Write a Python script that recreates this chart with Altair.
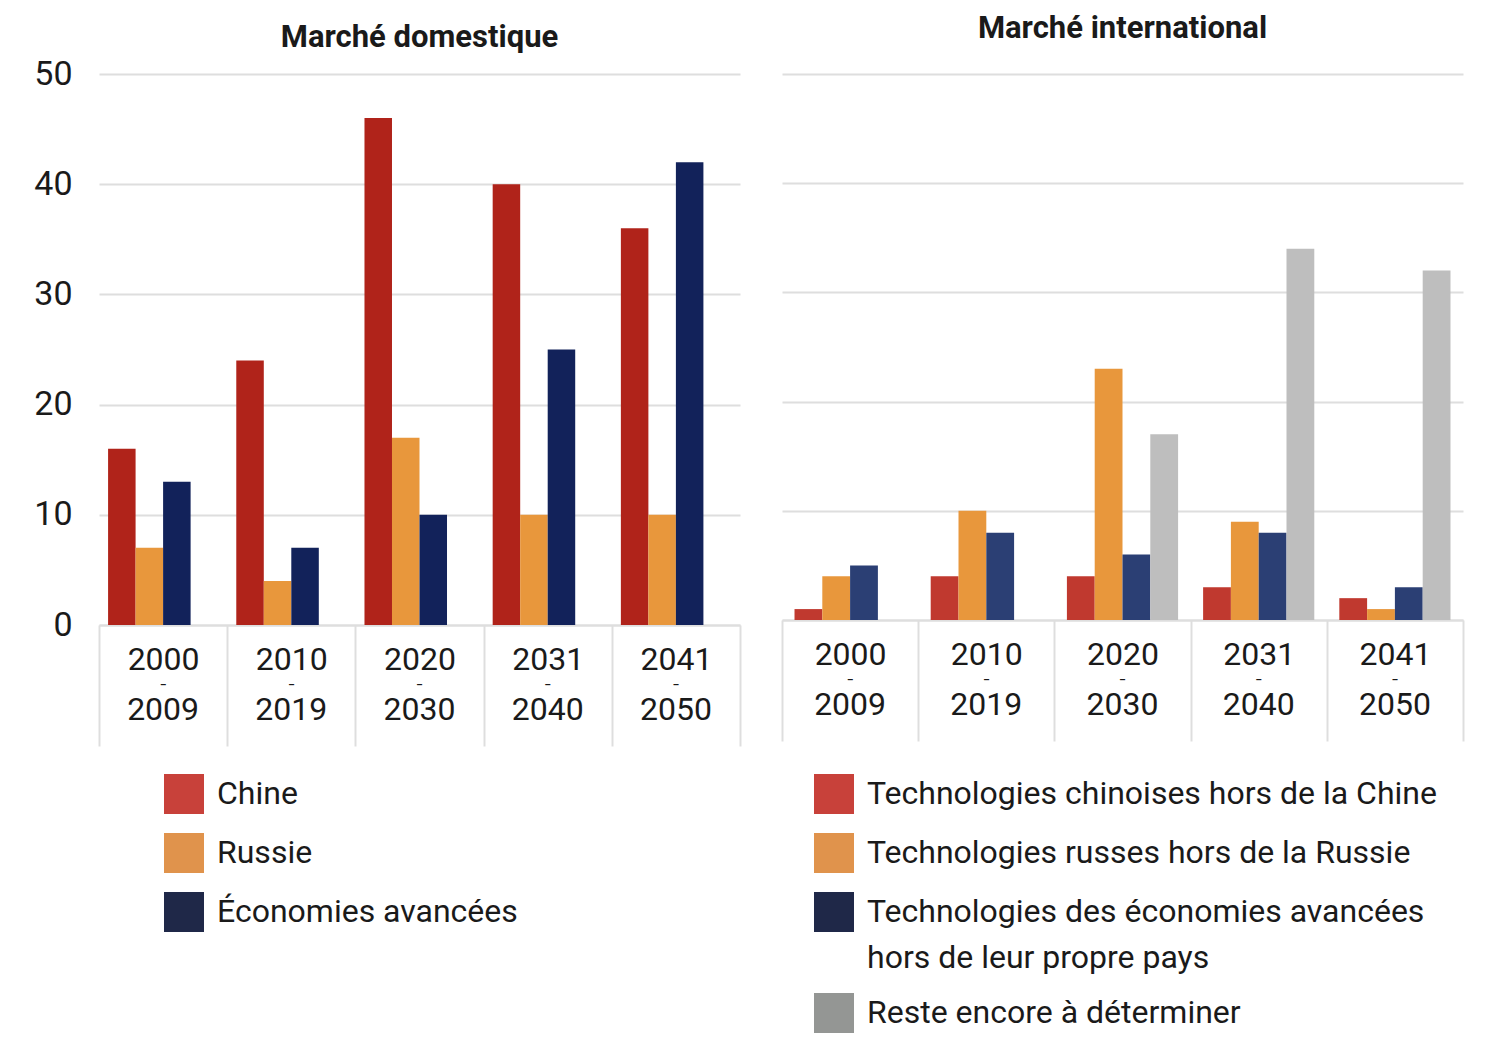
import altair as alt
import pandas as pd

FONT = "Roboto"
TXT = "#1a1a1a"
GRID = "#DEDEDE"

decades = ["2000-2009", "2010-2019", "2020-2030", "2031-2040", "2041-2050"]

# Marché domestique
dom_series = ["Chine", "Russie", "Économies avancées"]
dom_chine = [16, 24, 46, 40, 36]
dom_russie = [7, 4, 17, 10, 10]
dom_eco = [13, 7, 10, 25, 42]
dom_bar_colors = ["#B0231A", "#E8973C", "#12225A"]
dom_legend_colors = ["#C8413A", "#E0934C", "#1F2848"]

# Marché international
int_series = [
    "Technologies chinoises hors de la Chine",
    "Technologies russes hors de la Russie",
    "Technologies des économies avancées\nhors de leur propre pays",
    "Reste encore à déterminer",
]
int_chine = [1, 4, 4, 3, 2]
int_russie = [4, 10, 23, 9, 1]
int_eco = [5, 8, 6, 8, 3]
int_reste = [None, None, 17, 34, 32]
int_bar_colors = ["#C0392F", "#E8973C", "#2B3F74", "#BEBEBE"]
int_legend_colors = ["#C8413A", "#E0934C", "#1F2848", "#949694"]


def to_df(series, columns):
    rows = []
    for s, vals in zip(series, columns):
        for d, v in zip(decades, vals):
            if v is not None:
                rows.append({"decade": d, "series": s, "value": v})
    return pd.DataFrame(rows)


dom_df = to_df(dom_series, [dom_chine, dom_russie, dom_eco])
int_df = to_df(int_series, [int_chine, int_russie, int_eco, int_reste])

start_expr = "datum.label ? substring(datum.label, 0, 4) : ''"
end_expr = "datum.label ? substring(datum.label, 5, 9) : ''"
dash_expr = "datum.label ? '–' : ''"


def label_axis(expr, pad, size, weight="normal"):
    return alt.Axis(
        orient="bottom", title=None, labelAngle=0, labelExpr=expr,
        labelFont=FONT, labelFontSize=size, labelFontWeight=weight,
        labelColor=TXT, labelPadding=pad, ticks=False, tickSize=0,
        domain=False, grid=False,
    )


def panel(df, series, bar_colors, legend_colors, title, width, height,
          show_y, legend_x, offset_pad, title_offset):
    slots = series + ["_slot"] if len(series) < 4 else series
    x_scale = alt.Scale(domain=decades, paddingInner=0, paddingOuter=0)
    off_scale = alt.Scale(domain=slots, paddingInner=0, paddingOuter=offset_pad)
    y_scale = alt.Scale(domain=[0, 50])
    x_axis = alt.Axis(
        orient="bottom", title=None, labelAngle=0, labelExpr=start_expr,
        labelFont=FONT, labelFontSize=32, labelColor=TXT,
        labelPadding=-102, tickBand="extent", tickSize=121, tickColor=GRID,
        tickWidth=2, domainColor=GRID, domainWidth=2, grid=False,
    )
    if show_y:
        y_axis = alt.Axis(
            title=None, values=[0, 10, 20, 30, 40, 50], labelFont=FONT,
            labelFontSize=34, labelColor=TXT, labelPadding=27, ticks=False,
            domain=False, grid=True, gridColor=GRID, gridWidth=2,
            minExtent=86, maxExtent=86,
        )
    else:
        y_axis = alt.Axis(
            title=None, values=[0, 10, 20, 30, 40, 50], labels=False,
            ticks=False, domain=False, grid=True, gridColor=GRID, gridWidth=2,
            minExtent=0, maxExtent=0,
        )
    base = alt.Chart(df)
    bars = base.mark_bar().encode(
        x=alt.X("decade:N", sort=decades, scale=x_scale, axis=x_axis),
        xOffset=alt.XOffset("series:N", scale=off_scale),
        y=alt.Y("value:Q", scale=y_scale, axis=y_axis),
        color=alt.Color("series:N",
                        scale=alt.Scale(domain=series, range=bar_colors),
                        legend=None),
    )
    end_labels = base.mark_bar(opacity=0).encode(
        x=alt.X("decade:N", sort=decades, scale=x_scale,
                axis=label_axis(end_expr, 69, 32)),
        xOffset=alt.XOffset("series:N", scale=off_scale),
        y=alt.Y("value:Q", scale=y_scale, axis=y_axis),
    )
    dashes = base.mark_bar(opacity=0).encode(
        x=alt.X("decade:N", sort=decades, scale=x_scale,
                axis=label_axis(dash_expr, 54, 10, "bold")),
        xOffset=alt.XOffset("series:N", scale=off_scale),
        y=alt.Y("value:Q", scale=y_scale, axis=y_axis),
    )
    legend_layer = alt.Chart(pd.DataFrame({"series": series})).mark_square(
        size=0, opacity=1
    ).encode(
        fill=alt.Fill(
            "series:N",
            scale=alt.Scale(domain=series, range=legend_colors),
            legend=alt.Legend(
                title=None, orient="none", legendX=legend_x, legendY=700,
                direction="vertical", symbolType="square", symbolSize=1600,
                symbolStrokeWidth=0, labelFont=FONT, labelFontSize=32,
                labelColor=TXT, labelOffset=13, labelLimit=900, rowPadding=19,
                padding=0, labelExpr="split(datum.label, '\\n')",
            ),
        )
    )
    return alt.layer(bars, end_labels, dashes, legend_layer).properties(
        width=width, height=height,
        title=alt.TitleParams(title, font=FONT, fontSize=31, fontWeight="bold",
                              color=TXT, anchor="middle", frame="group",
                              offset=title_offset),
    ).resolve_scale(color="independent", fill="independent").resolve_axis(
        x="independent"
    )


left = panel(dom_df, dom_series, dom_bar_colors, dom_legend_colors,
             "Marché domestique", 641, 551, True, 65, 0.33, 3)
right = panel(int_df, int_series, int_bar_colors, int_legend_colors,
              "Marché international", 681, 546, False, 32, 0.45, 29)

chart = alt.hconcat(left, right, spacing=40).resolve_scale(
    x="independent", y="independent", color="independent", fill="independent",
    xOffset="independent",
).resolve_legend(fill="independent", color="independent").configure(
    background="white",
    style={"guide-label": {"lineHeight": 46}},
    view=alt.ViewConfig(stroke="transparent", strokeWidth=0),
)

chart.save("out.html", embed_options={"renderer": "svg", "actions": False})
